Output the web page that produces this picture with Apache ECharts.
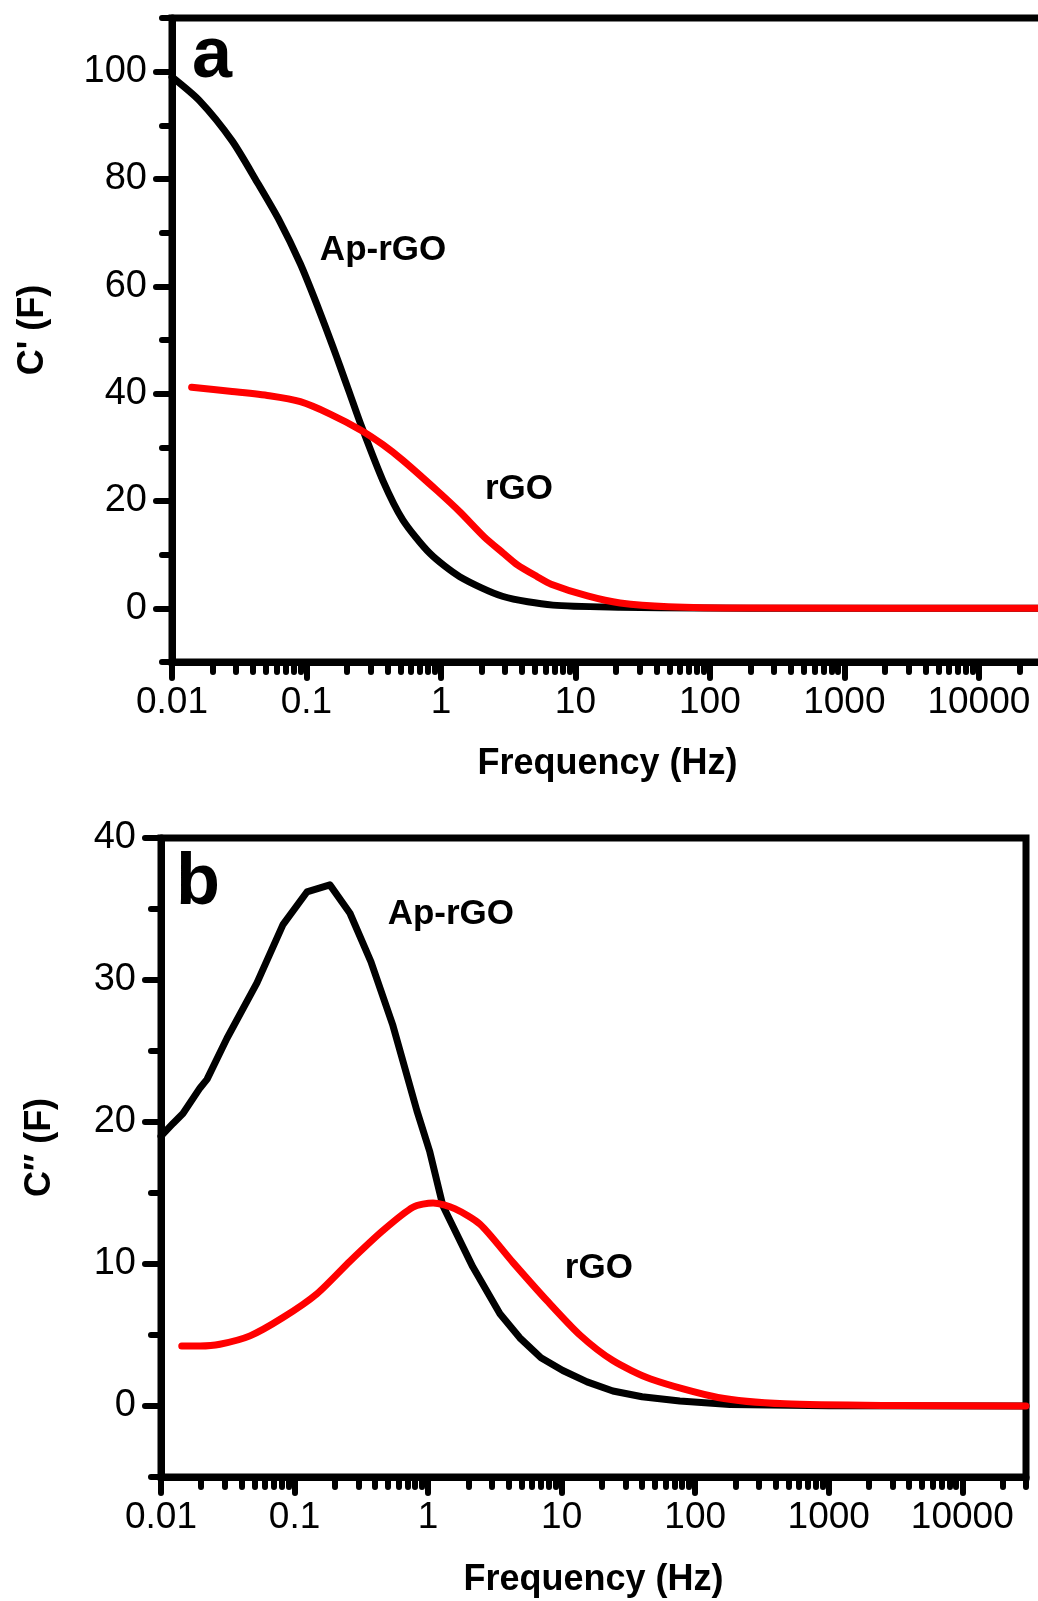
<!DOCTYPE html>
<html><head><meta charset="utf-8">
<script src="https://cdn.jsdelivr.net/npm/echarts@6/dist/echarts.min.js"></script>
<style>html,body{margin:0;padding:0;background:#fff}#c{width:1038px;height:1601px}</style>
</head><body><div id="c"></div>
<script>
// ---- data ----
const xTickLabels = [0.01, 0.1, 1, 10, 100, 1000, 10000];
const yTickLabelsA = [0, 20, 40, 60, 80, 100];
const yMinorTicksA = [-10, 10, 30, 50, 70, 90, 110];
const yTickLabelsB = [0, 10, 20, 30, 40];
const yMinorTicksB = [-5, 5, 15, 25, 35];

// Panel a: C' (F)
const freqApA = [0.01, 0.016, 0.028, 0.043, 0.063, 0.09, 0.12, 0.157, 0.177, 0.21, 0.254, 0.37, 0.52, 0.83, 1.38, 2.9, 6.8, 21.5, 85, 470, 30000];
const capApA  = [99.0, 94.6, 87.1, 79.4, 72.2, 64.2, 56.5, 48.8, 45.2, 40.0, 34.2, 23.8, 16.5, 10.2, 5.9, 2.2, 0.6, 0.2, 0.05, 0.0, 0.0];
const freqRgoA = [0.014, 0.028, 0.053, 0.09, 0.15, 0.254, 0.37, 0.52, 0.93, 1.38, 2.1, 2.9, 3.7, 5.2, 6.6, 12.3, 21.5, 49, 200, 30000];
const capRgoA  = [41.2, 40.4, 39.6, 38.5, 36.2, 33.2, 30.5, 27.6, 22.0, 18.0, 13.3, 10.3, 8.1, 5.9, 4.5, 2.3, 1.0, 0.3, 0.05, 0.0];

// Panel b: C'' (F)
const freqApB = [0.01, 0.0123, 0.0146, 0.0196, 0.0221, 0.0312, 0.0523, 0.0819, 0.1238, 0.184, 0.26, 0.373, 0.545, 0.824, 1.03, 1.29, 2.16, 3.45, 4.86, 7.0, 10.2, 15.5, 24.2, 40, 76.7, 182, 1000, 30000];
const capApB  = [19.0, 19.9, 20.6, 22.4, 23.0, 25.9, 29.8, 33.9, 36.2, 36.7, 34.7, 31.3, 26.8, 20.8, 17.9, 14.1, 9.8, 6.5, 4.8, 3.4, 2.5, 1.7, 1.06, 0.65, 0.35, 0.1, 0.02, 0.0];
const freqRgoB = [0.0143, 0.0196, 0.0276, 0.0464, 0.0819, 0.147, 0.26, 0.458, 0.77, 1.09, 1.58, 2.45, 4.33, 7.8, 13.7, 24.2, 46.5, 148, 470, 3400, 30000];
const capRgoB  = [4.23, 4.23, 4.35, 4.94, 6.23, 7.9, 10.2, 12.35, 14.0, 14.3, 13.9, 12.8, 10.1, 7.4, 5.0, 3.2, 1.9, 0.6, 0.15, 0.03, 0.0];

// ---- build ----
const FONT = '"Liberation Sans", Arial, sans-serif';
const xMinorTicks = [];
for (let d = -2; d <= 4; d++) for (let m = 2; m <= 9; m++) {
  const v = +(m * Math.pow(10, d)).toPrecision(6);
  if (v <= 30000) xMinorTicks.push(v);
}
const pairs = (xs, ys) => xs.map((x, i) => [x, ys[i]]);
const fmt = v => String(+(+v).toPrecision(6));
const AXW = 7, TKW = 6;

function xAxes(g, gap) {
  const base = {type: 'log', logBase: 10, gridIndex: g, min: 0.01, max: 30000, position: 'bottom',
    splitLine: {show: false}, minorTick: {show: false}, minorSplitLine: {show: false}};
  return [
    Object.assign({}, base, {
      axisLine: {show: true, onZero: false, lineStyle: {color: '#000', width: AXW}},
      axisTick: {show: true, inside: false, length: 16, customValues: xTickLabels, lineStyle: {color: '#000', width: TKW, cap: 'round'}},
      axisLabel: {show: true, customValues: xTickLabels, formatter: fmt, fontSize: 37, color: '#000', fontFamily: FONT, margin: 22},
      name: 'Frequency (Hz)', nameLocation: 'middle', nameGap: gap, nameMoveOverlap: false,
      nameTextStyle: {fontSize: 36, fontWeight: 'bold', color: '#000', fontFamily: FONT}
    }),
    Object.assign({}, base, {
      axisLine: {show: false, onZero: false},
      axisTick: {show: true, inside: false, length: 10, customValues: xMinorTicks, lineStyle: {color: '#000', width: TKW, cap: 'round'}},
      axisLabel: {show: false}
    })
  ];
}
function yAxes(g, min, max, major, minor, name, gap, pad) {
  const base = {type: 'value', gridIndex: g, min: min, max: max, position: 'left', splitLine: {show: false}};
  return [
    Object.assign({}, base, {
      axisLine: {show: true, onZero: false, lineStyle: {color: '#000', width: AXW}},
      axisTick: {show: true, inside: false, length: 16, customValues: major, lineStyle: {color: '#000', width: TKW, cap: 'round'}},
      axisLabel: {show: true, customValues: major, fontSize: 38, color: '#000', fontFamily: FONT, margin: 25},
      name: name, nameLocation: 'middle', nameGap: gap, nameMoveOverlap: false,
      nameTextStyle: {fontSize: 36, fontWeight: 'bold', color: '#000', fontFamily: FONT, padding: pad}
    }),
    Object.assign({}, base, {
      axisLine: {show: false, onZero: false},
      axisTick: {show: true, inside: false, length: 10, customValues: minor, lineStyle: {color: '#000', width: TKW, cap: 'round'}},
      axisLabel: {show: false}
    })
  ];
}
function note(text, coord) {
  return {coord: coord, value: text, label: {show: true, position: 'inside', formatter: text,
    fontSize: 35, fontWeight: 'bold', color: '#000', fontFamily: FONT}};
}
function lineSeries(name, data, color, xi, yi, smooth, notes) {
  return {type: 'line', name: name, data: data, xAxisIndex: xi, yAxisIndex: yi,
    showSymbol: false, symbol: 'none', smooth: smooth,
    lineStyle: {color: color, width: 7, cap: 'round', join: 'round'}, itemStyle: {color: color},
    emphasis: {disabled: true},
    animation: false, z: color === '#ff0000' ? 4 : 3,
    markPoint: {symbol: 'rect', symbolSize: 1, silent: true, animation: false,
      itemStyle: {color: 'rgba(0,0,0,0)'}, data: notes}};
}

const option = {
  backgroundColor: '#fff',
  animation: false,
  grid: [
    {left: 172, top: 18, width: 871, height: 644, show: true, borderColor: '#000', borderWidth: AXW,
     backgroundColor: 'rgba(0,0,0,0)', containLabel: false, outerBoundsMode: 'none'},
    {left: 161, top: 838, width: 865, height: 639, show: true, borderColor: '#000', borderWidth: AXW,
     backgroundColor: 'rgba(0,0,0,0)', containLabel: false, outerBoundsMode: 'none'}
  ],
  xAxis: [].concat(xAxes(0, 84), xAxes(1, 85)),
  yAxis: [].concat(
    yAxes(0, -10, 110, yTickLabelsA, yMinorTicksA, "C' (F)", 121, [0, 0, 0, 20]),
    yAxes(1, -5, 40, yTickLabelsB, yMinorTicksB, 'C\u2033 (F)', 103, [0, 0, 0, 20])
  ),
  series: [
    lineSeries('Ap-rGO', pairs(freqApA, capApA), '#000000', 0, 0, 0.25, [note('Ap-rGO', [0.371, 66.7])]),
    lineSeries('rGO', pairs(freqRgoA, capRgoA), '#ff0000', 0, 0, 0.25, [note('rGO', [3.8, 22.2])]),
    lineSeries('Ap-rGO', pairs(freqApB, capApB), '#000000', 2, 2, false, [note('Ap-rGO', [1.48, 34.65])]),
    lineSeries('rGO', pairs(freqRgoB, capRgoB), '#ff0000', 2, 2, 0.25, [note('rGO', [19.0, 9.7])])
  ],
  graphic: [
    {type: 'text', x: 212, y: 57, style: {text: 'a', fontSize: 72, fontWeight: 'bold', fontFamily: FONT, fill: '#000', align: 'center', verticalAlign: 'middle', textAlign: 'center', textVerticalAlign: 'middle'}},
    {type: 'text', x: 198, y: 884, style: {text: 'b', fontSize: 72, fontWeight: 'bold', fontFamily: FONT, fill: '#000', align: 'center', verticalAlign: 'middle', textAlign: 'center', textVerticalAlign: 'middle'}}
  ]
};
const chart = echarts.init(document.getElementById('c'), null, {renderer: 'canvas', width: 1038, height: 1601});
chart.setOption(option);
</script>
</body></html>
